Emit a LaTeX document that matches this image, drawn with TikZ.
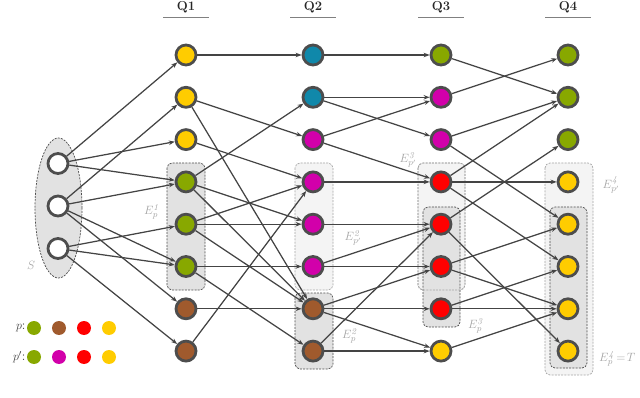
\documentclass[tikz,border=0pt]{standalone}
\usetikzlibrary{arrows.meta,shapes.geometric}
\definecolor{ylw}{RGB}{255,204,0}
\definecolor{grn}{RGB}{136,168,0}
\definecolor{tel}{RGB}{16,136,170}
\definecolor{mag}{RGB}{210,0,170}
\definecolor{rd}{RGB}{255,0,0}
\definecolor{brn}{RGB}{160,90,45}
\definecolor{bord}{RGB}{77,77,77}
\definecolor{edgec}{RGB}{68,68,68}
\definecolor{lbl}{RGB}{165,165,165}
\definecolor{dkfill}{RGB}{226,226,226}
\definecolor{ltfill}{RGB}{244,244,244}
\tikzset{
 vtx/.style={circle, draw=bord, line width=2.8pt, minimum size=20pt, inner sep=0pt},
 arr/.style={draw=edgec, line width=1.25pt, -{Stealth[length=6pt,width=4.5pt]}},
 dkbox/.style={draw=bord, dash pattern=on 2pt off 1.2pt, fill=dkfill, rounded corners=5pt, line width=0.7pt},
 ltbox/.style={draw=lbl, dash pattern=on 2pt off 1.2pt, fill=ltfill, rounded corners=5pt, line width=0.7pt},
 ltframe/.style={draw=lbl, dash pattern=on 2pt off 1.2pt, rounded corners=5pt, line width=0.7pt},
 lab/.style={text=lbl, font=\fontsize{13}{15}\selectfont, inner sep=1pt},
 legdot/.style={circle, minimum size=14pt, inner sep=0pt},
 qhead/.style={font=\bfseries\fontsize{13}{15}\selectfont, text=black!85},
}
\begin{document}
\begin{tikzpicture}[x=1pt,y=-1pt]
\useasboundingbox (0,0) rectangle (640,398);

% headings
\foreach \n/\x in {1/186,2/313,3/441,4/568}{
  \node[qhead] (q\n) at (\x,7.5) {Q\n};
  \draw[gray, line width=1.4pt] (\x-23,17.5) -- (\x+23,17.5);
}

% boxes
\draw[dkbox] (58.5,208) ellipse [x radius=23.5pt, y radius=70pt];
\draw[dkbox] (167,163) rectangle (205,290);
\draw[ltbox] (295,163) rectangle (333,290);
\draw[dkbox] (295,293) rectangle (333,369);
\draw[ltbox] (418,163) rectangle (465,290);
\draw[dkbox] (423,207) rectangle (460,327);
\draw[ltframe] (418,163) rectangle (465,290);
\draw[ltbox] (545,163) rectangle (593,375);
\draw[dkbox] (550,207) rectangle (587,368);

% labels
\node[lab] (lS) at (31,265) {$S$};
\node[lab] (l1) at (152,212) {$E_p^{\mathit{1}}$};
\node[lab] (l2a) at (353,238) {$E_{p'}^{\mathit{2}}$};
\node[lab] (l2b) at (350,336) {$E_p^{\mathit{2}}$};
\node[lab] (l3a) at (408,160) {$E_{p'}^{\mathit{3}}$};
\node[lab] (l3b) at (476,326) {$E_p^{\mathit{3}}$};
\node[lab] (l4a) at (611,185) {$E_{p'}^{\mathit{4}}$};
\node[lab, anchor=west] (l4b) at (598,359) {$E_p^{\mathit{4}}\!=\!T$};

% source nodes
\node[vtx, fill=white] (s1) at (58,163.5) {};
\node[vtx, fill=white] (s2) at (58,206) {};
\node[vtx, fill=white] (s3) at (58,248.5) {};

% column nodes
\foreach \c/\x/\cols in {a/186/{ylw,ylw,ylw,grn,grn,grn,brn,brn},
                         b/313/{tel,tel,mag,mag,mag,mag,brn,brn},
                         c/441/{grn,mag,mag,rd,rd,rd,rd,ylw},
                         d/568/{grn,grn,grn,ylw,ylw,ylw,ylw,ylw}}{
  \foreach \col [count=\i] in \cols {
    \node[vtx, fill=\col] (\c\i) at (\x,{55+42.3*(\i-1)}) {};
  }
}

% edges
\foreach \u/\v in {s1/a1,s1/a3,s1/a4,s2/a2,s2/a4,s2/a6,s2/a7,s3/a5,s3/a6,s3/a8,
  a1/b1,a2/b3,a2/b7,a3/b4,a4/b2,a4/b5,a4/b7,a5/b4,a5/b5,a5/b7,a6/b6,a6/b8,a7/b7,a8/b4,
  b1/c1,b2/c2,b2/c3,b3/c2,b3/c4,b4/c4,b5/c5,b6/c5,b6/c6,b7/c6,b7/c7,b7/c8,b8/c5,b8/c8,
  c1/d2,c2/d1,c3/d2,c3/d5,c4/d2,c4/d4,c4/d6,c5/d3,c5/d8,c6/d5,c6/d7,c7/d6,c7/d7,c8/d7}{
  \draw[arr] (\u) -- (\v);
}

% legend
\node[anchor=east, text=black!75, font=\fontsize{13}{15}\selectfont] (lp) at (29,328) {$p$:};
\node[anchor=east, text=black!75, font=\fontsize{13}{15}\selectfont] (lpp) at (29,357) {$p'$:};
\foreach \col [count=\i] in {grn,brn,rd,ylw}{
  \node[legdot, fill=\col] (pd\i) at ({34+25*(\i-1)},328) {};
}
\foreach \col [count=\i] in {grn,mag,rd,ylw}{
  \node[legdot, fill=\col] (qd\i) at ({34+25*(\i-1)},357) {};
}
\end{tikzpicture}
\end{document}
